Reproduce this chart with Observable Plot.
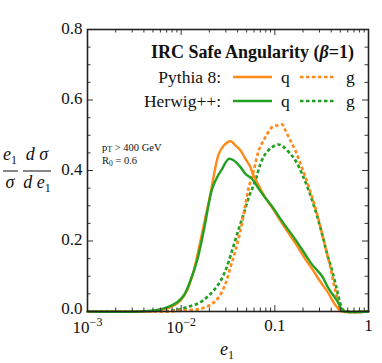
<!DOCTYPE html>
<html><head><meta charset="utf-8">
<script src="https://cdn.jsdelivr.net/npm/d3@7"></script>
<script src="https://cdn.jsdelivr.net/npm/@observablehq/plot@0.6"></script>
<style>body{margin:0;background:#fff}svg{display:block}</style>
</head><body><div id="chart"></div>
<script>
// ---- data ----
const pythiaQ_e = [0.001, 0.0045, 0.00601, 0.00769, 0.00984, 0.01158, 0.01364, 0.01607, 0.01817, 0.02054, 0.02323, 0.0252, 0.0285, 0.0336, 0.0380, 0.0430, 0.0486, 0.0549, 0.0572, 0.0674, 0.0794, 0.0935, 0.1101, 0.1300, 0.166, 0.2123, 0.25, 0.30, 0.377, 0.4254, 0.4815, 0.52, 1];
const pythiaQ_y = [0, 0, 0.003, 0.012, 0.031, 0.060, 0.116, 0.201, 0.268, 0.334, 0.4095, 0.447, 0.471, 0.483, 0.471, 0.457, 0.433, 0.41, 0.395, 0.357, 0.322, 0.295, 0.265, 0.235, 0.193, 0.148, 0.121, 0.088, 0.050, 0.025, 0.006, 0, 0];
const herwigQ_e = [0.001, 0.0035, 0.00511, 0.00708, 0.00906, 0.01066, 0.01256, 0.0148, 0.01744, 0.01972, 0.0214, 0.0242, 0.02736, 0.0322, 0.0365, 0.0430, 0.0486, 0.0572, 0.0674, 0.0794, 0.0935, 0.1101, 0.1297, 0.166, 0.2123, 0.25, 0.3196, 0.377, 0.4619, 0.5222, 0.56, 1];
const herwigQ_y = [0, 0, 0.003, 0.012, 0.0265, 0.0454, 0.0879, 0.1447, 0.2298, 0.3054, 0.348, 0.381, 0.4047, 0.4331, 0.4284, 0.4095, 0.3905, 0.376, 0.348, 0.322, 0.298, 0.270, 0.243, 0.204, 0.161, 0.133, 0.100, 0.064, 0.031, 0.004, 0, 0];
const pythiaG_e = [0.001, 0.0075, 0.01066, 0.01607, 0.0214, 0.0252, 0.0297, 0.0336, 0.0380, 0.0430, 0.0486, 0.0527, 0.0596, 0.0674, 0.0794, 0.0935, 0.1057, 0.1196, 0.1297, 0.1466, 0.166, 0.1876, 0.2123, 0.25, 0.2825, 0.3196, 0.3612, 0.392, 0.4254, 0.4619, 0.5012, 0.5441, 1];
const pythiaG_y = [0, 0, 0.003, 0.0076, 0.0218, 0.0407, 0.0785, 0.1258, 0.173, 0.2298, 0.305, 0.352, 0.40, 0.4567, 0.4946, 0.5229, 0.5277, 0.5305, 0.5135, 0.4851, 0.4567, 0.4189, 0.3811, 0.3243, 0.2771, 0.2203, 0.1636, 0.1258, 0.0785, 0.0407, 0.0076, 0, 0];
const herwigG_e = [0.001, 0.006, 0.00834, 0.01158, 0.01607, 0.02054, 0.0252, 0.0297, 0.0350, 0.0412, 0.0466, 0.0527, 0.0621, 0.0702, 0.0794, 0.0935, 0.1101, 0.1245, 0.1466, 0.166, 0.1954, 0.2302, 0.2712, 0.3196, 0.3612, 0.4083, 0.4619, 0.5012, 0.5441, 1];
const herwigG_y = [0, 0, 0.003, 0.0123, 0.0265, 0.0501, 0.0785, 0.1163, 0.173, 0.2345, 0.2771, 0.3243, 0.3716, 0.4189, 0.4473, 0.4662, 0.4738, 0.4662, 0.4473, 0.4284, 0.3905, 0.3433, 0.2865, 0.2203, 0.1636, 0.1163, 0.0596, 0.0218, 0.003, 0];

const xMajor = [0.001, 0.01, 0.1, 1];
const xMajorLabels = ["10^-3", "10^-2", "0.1", "1"];
const xMinor = [0.002,0.003,0.004,0.005,0.006,0.007,0.008,0.009,
                0.02,0.03,0.04,0.05,0.06,0.07,0.08,0.09,
                0.2,0.3,0.4,0.5,0.6,0.7,0.8,0.9];
const yMajor = [0, 0.2, 0.4, 0.6, 0.8];
const yMajorLabels = ["0.0", "0.2", "0.4", "0.6", "0.8"];
const yMinor = [0.05,0.1,0.15,0.25,0.3,0.35,0.45,0.5,0.55,0.65,0.7,0.75];

const ORANGE = "#ff8a1a", GREEN = "#22a022";
const DASH = "3.5,2.5";

const toRows = (es, ys) => es.map((e, i) => ({e, v: ys[i]}));
const xRows = xMajor.map((v, i) => ({v, label: xMajorLabels[i]}));
const yRows = yMajor.map((v, i) => ({v, label: yMajorLabels[i]}));

// ---- layout ----
const W = 382, H = 363, mL = 87, mR = 14, mT = 29, mB = 52;
const innerW = W - mL - mR, innerH = H - mT - mB;
const MAJ = 6, MIN = 3.5;
const font = "Liberation Serif, Times New Roman, serif";

const tickStyle = {stroke: "#333", strokeWidth: 1};
const lineOpts = {x: "e", y: "v", curve: "catmull-rom"};
const dashOpts = {strokeWidth: 2.7, strokeDasharray: DASH, strokeLinecap: "butt", strokeLinejoin: "miter"};

const svg = Plot.plot({
  width: W, height: H,
  marginLeft: mL, marginRight: mR, marginTop: mT, marginBottom: mB,
  style: {fontFamily: font, fontSize: "17px", background: "white", color: "#222"},
  x: {type: "log", domain: [1e-3, 1], axis: null},
  y: {domain: [0, 0.8], axis: null},
  marks: [
    Plot.line(toRows(herwigG_e, herwigG_y), {...lineOpts, ...dashOpts, stroke: GREEN}),
    Plot.line(toRows(pythiaG_e, pythiaG_y), {...lineOpts, ...dashOpts, stroke: ORANGE}),
    Plot.line(toRows(pythiaQ_e, pythiaQ_y), {...lineOpts, stroke: ORANGE, strokeWidth: 2.4}),
    Plot.line(toRows(herwigQ_e, herwigQ_y), {...lineOpts, stroke: GREEN, strokeWidth: 2.4}),
    // inward ticks: bottom / top
    Plot.ruleX(xMajor, {x: d => d, insetTop: innerH - MAJ, ...tickStyle}),
    Plot.ruleX(xMajor, {x: d => d, insetBottom: innerH - MAJ, ...tickStyle}),
    Plot.ruleX(xMinor, {x: d => d, insetTop: innerH - MIN, ...tickStyle}),
    Plot.ruleX(xMinor, {x: d => d, insetBottom: innerH - MIN, ...tickStyle}),
    // inward ticks: left / right
    Plot.ruleY(yMajor, {y: d => d, insetRight: innerW - MAJ, ...tickStyle}),
    Plot.ruleY(yMajor, {y: d => d, insetLeft: innerW - MAJ, ...tickStyle}),
    Plot.ruleY(yMinor, {y: d => d, insetRight: innerW - MIN, ...tickStyle}),
    Plot.ruleY(yMinor, {y: d => d, insetLeft: innerW - MIN, ...tickStyle}),
    Plot.frame({stroke: "#222", strokeWidth: 1.6}),
    // tick labels
    Plot.text(xRows, {x: "v", text: "label", frameAnchor: "bottom", lineAnchor: "bottom", dy: 19, fontSize: 17, fill: "#111"}),
    Plot.text(yRows.slice(0, 1), {y: "v", text: "label", frameAnchor: "left", textAnchor: "end", dx: -5, dy: -3, fontSize: 17, fill: "#111"}),
    Plot.text(yRows.slice(1), {y: "v", text: "label", frameAnchor: "left", textAnchor: "end", dx: -5, dy: -1, fontSize: 17, fill: "#111"})
  ]
});
document.getElementById("chart").appendChild(svg);

const root = d3.select(svg);

// superscript exponents on x tick labels
root.selectAll("text").each(function () {
  const t = this.textContent;
  const m = /^10\^(-?\d+)$/.exec(t);
  if (m) {
    const el = d3.select(this);
    el.text(null);
    el.append("tspan").attr("dy", 2).text("10");
    el.append("tspan").attr("dy", -7).attr("font-size", "12px").text("\u2212" + m[1].replace("-", ""));
  }
});

const g = root.append("g").attr("font-family", font).attr("fill", "#111").attr("text-anchor", "start");

// legend block
g.append("text").attr("x", 354).attr("y", 58).attr("text-anchor", "end")
  .attr("font-size", 18).attr("font-weight", "bold")
  .call(t => { t.append("tspan").text("IRC Safe Angularity ("); t.append("tspan").attr("font-style", "italic").text("\u03B2"); t.append("tspan").text("=1)"); });

const legendRows = [
  {label: "Pythia 8:", color: ORANGE, y: 83},
  {label: "Herwig++:", color: GREEN, y: 107}
];
legendRows.forEach(r => {
  g.append("text").attr("x", 221).attr("y", r.y).attr("text-anchor", "end").attr("font-size", 17.5).text(r.label);
  g.append("line").attr("x1", 233).attr("x2", 272).attr("y1", r.y - 6).attr("y2", r.y - 6)
    .attr("stroke", r.color).attr("stroke-width", 2.6);
  g.append("text").attr("x", 281).attr("y", r.y).attr("font-size", 17.5).text("q");
  g.append("line").attr("x1", 300).attr("x2", 336).attr("y1", r.y - 6).attr("y2", r.y - 6)
    .attr("stroke", r.color).attr("stroke-width", 2.7).attr("stroke-dasharray", DASH);
  g.append("text").attr("x", 346).attr("y", r.y).attr("font-size", 17.5).text("g");
});

// small cut annotations
g.append("text").attr("x", 102).attr("y", 151).attr("font-size", 10.5)
  .call(t => { t.append("tspan").text("p"); t.append("tspan").attr("font-size", 8).attr("dy", 1).text("T"); t.append("tspan").attr("dy", -1).text(" > 400 GeV"); });
g.append("text").attr("x", 102).attr("y", 164).attr("font-size", 10.5)
  .call(t => { t.append("tspan").text("R"); t.append("tspan").attr("font-size", 7.5).attr("dy", 2).text("0"); t.append("tspan").attr("dy", -2).text(" = 0.6"); });

// y-axis title: (e1/sigma)(d sigma / d e1)
const fr = (cx, num, den) => {
  const n = g.append("text").attr("x", cx).attr("y", 160).attr("text-anchor", "middle").attr("font-size", 18).attr("font-style", "italic");
  num(n);
  const d = g.append("text").attr("x", cx).attr("y", 188).attr("text-anchor", "middle").attr("font-size", 18).attr("font-style", "italic");
  den(d);
};
const sub1 = t => t.append("tspan").attr("font-style", "normal").attr("font-size", 12).attr("dy", 4).text("1");
fr(10, t => { t.append("tspan").text("e"); sub1(t); }, t => t.text("\u03C3"));
g.append("line").attr("x1", 3).attr("x2", 18).attr("y1", 171).attr("y2", 171).attr("stroke", "#111").attr("stroke-width", 1);
fr(37, t => t.text("d \u03C3"), t => { t.append("tspan").text("d e"); sub1(t); });
g.append("line").attr("x1", 23).attr("x2", 51).attr("y1", 171).attr("y2", 171).attr("stroke", "#111").attr("stroke-width", 1);

// x-axis title
g.append("text").attr("x", 227).attr("y", 355).attr("text-anchor", "middle").attr("font-size", 18).attr("font-style", "italic")
  .call(t => { t.append("tspan").text("e"); sub1(t); });
</script>
</body></html>
